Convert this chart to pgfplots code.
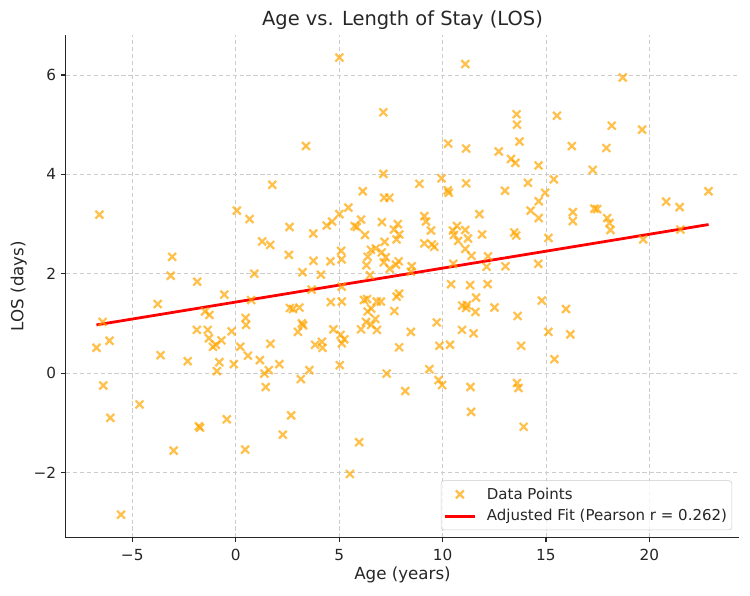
\documentclass[border=0pt]{standalone}
\usepackage{pgfplots}
\pgfplotsset{compat=1.18}
\usepackage{fontspec}
\setmainfont{DejaVu Sans}
\definecolor{mkorange}{RGB}{255,165,0}
\definecolor{txt}{RGB}{38,38,38}
\begin{document}
\begin{tikzpicture}
\begin{axis}[
  scale only axis,
  width=484.6pt, height=361.9pt,
  xmin=-8.21, xmax=24.34, ymin=-3.31, ymax=6.81,
  axis x line*=bottom, axis y line*=left,
  axis line style={black!85, line width=0.8pt},
  tick align=outside,
  major tick length=3.5pt,
  tick style={black!85, line width=0.8pt},
  xtick={-5,0,5,10,15,20}, xticklabels={−5,0,5,10,15,20},
  ytick={-2,0,2,4,6}, yticklabels={−2,0,2,4,6},
  ticklabel style={font=\fontsize{11}{13}\selectfont, text=txt},
  xticklabel style={yshift=-1.2pt},
  grid=major,
  major grid style={draw=black!20, dash pattern=on 3pt off 2pt, line width=0.6pt},
  title={Age vs. Length of Stay (LOS)},
  title style={font=\fontsize{14}{16}\selectfont, text=txt, at={([yshift=4.2pt]axis description cs:0.5,1)}, anchor=center},
  xlabel={Age (years)},
  xlabel style={font=\fontsize{12}{14}\selectfont, text=txt, at={([yshift=-27pt]axis description cs:0.5,0)}, anchor=center},
  ylabel={LOS (days)},
  ylabel style={font=\fontsize{12}{14}\selectfont, text=txt, at={([xshift=-33.8pt]axis description cs:0,0.5)}, anchor=center},
  legend image code/.code={\draw[mark repeat=2,mark phase=2,#1] plot coordinates {(0pt,0pt) (11pt,0pt) (22pt,0pt)};},
  legend style={at={(0.9896,0.0147)}, anchor=south east, draw=black!20, rounded corners=2pt,
    fill=white, fill opacity=0.8, text opacity=1, font=\fontsize{10.8}{13}\selectfont, text=txt,
    row sep=2pt, column sep=5.4pt, inner xsep=1.5pt, inner ysep=3pt,
    nodes={inner xsep=2pt}},
  legend cell align=left,
]
\addplot[only marks, mark=x, mark size=4pt, mkorange, opacity=0.7, line width=1.6pt] table {
x y
-6.59 3.19
-6.73 0.51
-6.43 1.03
-6.10 0.65
-6.40 -0.25
-6.06 -0.90
-5.54 -2.85
-4.65 -0.63
-3.77 1.39
-3.63 0.36
-3.07 2.34
-3.14 1.96
-3.00 -1.56
-2.32 0.24
-1.86 1.84
-1.88 0.87
-1.78 -1.07
-1.72 -1.10
-1.48 1.24
-1.27 1.17
-1.35 0.87
-1.29 0.70
-1.10 0.53
-0.96 0.57
-0.69 0.66
-0.79 0.22
-0.91 0.04
-0.55 1.58
-0.43 -0.93
-0.20 0.84
-0.09 0.18
0.06 3.27
0.22 0.53
0.48 1.11
0.50 0.97
0.46 -1.54
0.59 0.35
0.67 3.10
0.75 1.47
0.90 2.00
1.17 0.26
1.28 2.65
1.67 2.58
1.77 3.79
1.68 0.59
1.39 -0.01
1.60 0.06
1.45 -0.28
2.11 0.18
2.28 -1.24
2.60 2.94
2.57 2.38
2.68 -0.85
2.62 1.31
2.77 1.29
3.08 1.32
3.01 0.83
3.20 1.00
3.26 0.96
3.15 -0.12
3.23 2.03
3.40 4.57
3.56 0.06
3.67 1.68
3.75 2.81
3.76 2.26
3.84 0.57
4.12 1.98
4.17 0.63
4.20 0.51
4.40 2.97
4.66 3.05
4.58 2.25
4.60 1.43
4.72 0.88
5.01 3.20
5.01 6.35
5.10 2.46
5.12 2.29
5.03 0.16
5.07 0.77
5.13 1.44
5.12 1.74
5.13 0.60
5.25 0.68
5.45 3.33
5.52 -2.03
5.75 2.96
5.86 2.94
5.97 -1.39
6.06 3.09
6.14 3.66
6.25 2.78
6.06 0.88
6.30 1.03
6.38 1.24
6.55 0.97
6.20 1.47
6.35 1.49
6.55 1.30
6.75 1.09
6.83 0.87
6.82 1.44
7.02 1.44
6.38 2.34
6.32 2.17
6.54 2.48
6.49 1.97
6.77 2.51
7.06 2.43
7.20 2.64
7.25 2.33
7.16 2.23
7.45 2.10
7.75 2.18
7.88 2.25
8.51 2.15
8.47 2.04
7.07 3.04
7.14 4.01
7.14 5.25
7.18 3.53
7.43 3.53
7.65 2.89
7.84 3.00
7.91 2.79
7.78 2.69
7.67 1.25
7.30 -0.01
7.78 1.54
7.90 1.60
7.90 0.52
8.20 -0.36
8.47 0.83
8.88 3.81
9.12 3.16
9.20 3.05
9.44 2.87
9.12 2.61
9.49 2.59
9.60 2.54
9.36 0.08
9.72 1.02
9.81 -0.14
9.85 0.55
9.98 -0.24
9.95 3.92
10.27 4.62
10.25 3.68
10.30 3.63
10.36 0.57
10.50 2.87
10.70 2.96
10.55 2.78
10.75 2.66
11.10 2.88
11.23 2.71
10.52 2.20
10.41 1.79
10.95 1.36
11.18 1.37
11.14 1.31
10.94 0.87
11.10 6.22
11.14 4.52
11.14 3.82
11.10 2.50
11.35 -0.28
11.38 -0.78
11.40 2.36
11.33 1.77
11.50 0.80
11.62 1.52
11.59 1.23
11.78 3.20
11.91 2.79
12.13 2.14
12.20 2.35
12.18 1.79
12.51 1.32
12.72 4.46
13.02 3.67
13.04 2.15
13.31 4.31
13.52 4.23
13.47 2.83
13.56 2.77
13.58 5.21
13.60 5.00
13.72 4.66
13.63 1.15
13.60 -0.20
13.67 -0.30
13.80 0.55
13.92 -1.08
14.13 3.83
14.26 3.27
14.64 4.18
14.65 3.12
14.65 3.46
14.63 2.20
14.80 1.46
14.96 3.63
15.12 0.83
15.12 2.72
15.38 3.90
15.41 0.28
15.53 5.18
15.97 1.29
16.18 0.78
16.25 4.57
16.30 3.24
16.30 3.06
17.26 4.09
17.34 3.31
17.47 3.30
17.92 4.53
17.96 3.12
18.07 3.02
18.12 2.88
18.18 4.98
18.71 5.95
19.65 4.90
19.70 2.69
20.81 3.45
21.46 3.34
21.50 2.89
22.86 3.66
};
\addlegendentry{Data Points}
\addplot[red, line width=2pt] coordinates {(-6.73,0.97) (22.86,2.99)};
\addlegendentry{Adjusted Fit (Pearson r = 0.262)}
\end{axis}
\pgfresetboundingbox
\useasboundingbox (-47.4pt,-41.5pt) rectangle (492.4pt,386.9pt);
\end{tikzpicture}
\end{document}
